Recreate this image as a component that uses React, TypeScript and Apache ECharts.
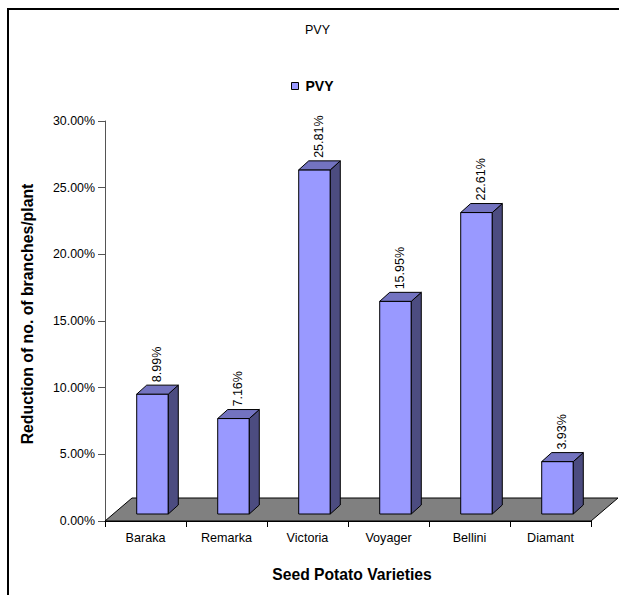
import React, { useEffect, useRef } from "react";
import * as echarts from "echarts";

const categories = ["Baraka", "Remarka", "Victoria", "Voyager", "Bellini", "Diamant"];
const pvyValues = [8.99, 7.16, 25.81, 15.95, 22.61, 3.93];
const seriesName = "PVY";
const yMin = 0;
const yMax = 30;
const yInterval = 5;

const FONT = '"Liberation Sans", Arial, Helvetica, sans-serif';

export default function App() {
  const ref = useRef<HTMLDivElement>(null);

  useEffect(() => {
    if (!ref.current) return;
    const chart = echarts.init(ref.current, undefined, { renderer: "svg" });

    const depthX = 27;
    const depthY = -23;

    const option: any = {
      animation: false,
      backgroundColor: "#ffffff",
      title: {
        text: seriesName,
        left: 305,
        top: 23,
        padding: 0,
        textStyle: { fontSize: 12.5, fontWeight: "normal", color: "#000", fontFamily: FONT },
      },
      legend: {
        left: 291,
        top: 79,
        padding: 0,
        itemWidth: 7,
        itemHeight: 7,
        itemGap: 10,
        data: [
          {
            name: seriesName,
            icon: "rect",
            itemStyle: { color: "#9999FF", borderColor: "#000", borderWidth: 1 },
          },
        ],
        textStyle: { fontSize: 14, fontWeight: "bold", color: "#000", fontFamily: FONT, padding: [0, 0, 0, 2] },
      },
      grid: { left: 105, right: 28, top: 121, bottom: 74, containLabel: false },
      xAxis: {
        type: "category",
        data: categories,
        boundaryGap: true,
        axisLine: { show: true, lineStyle: { color: "#000", width: 1 } },
        axisTick: { show: true, length: 6, alignWithLabel: false, lineStyle: { color: "#000" } },
        axisLabel: { margin: 10, fontSize: 12.6, color: "#000", fontFamily: FONT, interval: 0 },
        splitLine: { show: false },
        z: 3,
      },
      yAxis: {
        type: "value",
        min: yMin,
        max: yMax,
        interval: yInterval,
        axisLine: { show: true, lineStyle: { color: "#555", width: 1 } },
        axisTick: { show: true, length: 7, lineStyle: { color: "#555" } },
        axisLabel: {
          margin: 10,
          fontSize: 12.4,
          color: "#000",
          fontFamily: FONT,
          formatter: (v: number) => v.toFixed(2) + "%",
        },
        splitLine: { show: false },
      },
      graphic: [
        {
          type: "rect",
          shape: { x: 8, y: 9, width: 700, height: 700 },
          style: { fill: "none", stroke: "#000", lineWidth: 2 },
          silent: true,
          z: 10,
        },
        {
          type: "text",
          x: 27,
          y: 314,
          rotation: Math.PI / 2,
          style: {
            text: "Reduction of no. of branches/plant",
            font: "bold 15.8px " + FONT,
            fill: "#000",
            align: "center",
            verticalAlign: "middle",
          },
        },
        {
          type: "text",
          x: 352,
          y: 574,
          style: {
            text: "Seed Potato Varieties",
            font: "bold 15.7px " + FONT,
            fill: "#000",
            align: "center",
            verticalAlign: "middle",
          },
        },
      ],
      series: [
        {
          type: "custom",
          name: "floor",
          z: 1,
          silent: true,
          data: [[0, 0]],
          renderItem: (params: any, api: any) => {
            const cs = params.coordSys;
            const yb = cs.y + cs.height;
            return {
              type: "polygon",
              shape: {
                points: [
                  [cs.x, yb],
                  [cs.x + cs.width, yb],
                  [cs.x + cs.width + depthX, yb + depthY],
                  [cs.x + depthX, yb + depthY],
                ],
              },
              style: { fill: "#808080", stroke: "#000", lineWidth: 1 },
            };
          },
        },
        {
          type: "custom",
          name: seriesName,
          z: 5,
          itemStyle: { color: "#9999FF" },
          data: pvyValues.map((v, i) => [i, v]),
          renderItem: (params: any, api: any) => {
            const idx = api.value(0);
            const v = api.value(1);
            const top = api.coord([idx, v]);
            const base = api.coord([idx, 0]);
            const cw = api.size([1, 0])[0];
            const fw = cw * 0.39;
            const ox = 7;
            const oy = -7;
            const dx = 10;
            const dy = -9;
            const x0 = top[0] - fw / 2 + ox;
            const x1 = x0 + fw;
            const yb = base[1] + oy;
            const yt = top[1] + oy;
            const edge = { stroke: "#000", lineWidth: 1, lineJoin: "round" };
            return {
              type: "group",
              children: [
                {
                  type: "polygon",
                  shape: { points: [[x0, yb], [x1, yb], [x1, yt], [x0, yt]] },
                  style: { fill: "#9999FF", ...edge },
                },
                {
                  type: "polygon",
                  shape: { points: [[x1, yb], [x1 + dx, yb + dy], [x1 + dx, yt + dy], [x1, yt]] },
                  style: { fill: "#4C4C80", ...edge },
                },
                {
                  type: "polygon",
                  shape: { points: [[x0, yt], [x0 + dx, yt + dy], [x1 + dx, yt + dy], [x1, yt]] },
                  style: { fill: "#7373C0", ...edge },
                },
                {
                  type: "text",
                  x: x0 + fw / 2 + dx / 2 - 1,
                  y: yt + dy - 3,
                  rotation: Math.PI / 2,
                  style: {
                    text: v.toFixed(2) + "%",
                    font: "12.5px " + FONT,
                    fill: "#000",
                    align: "left",
                    verticalAlign: "middle",
                  },
                },
              ],
            };
          },
        },
      ],
    };

    chart.setOption(option);
    return () => chart.dispose();
  }, []);

  return (
    <div
      ref={ref}
      style={{ position: "fixed", left: 0, top: 0, width: 619, height: 595, background: "#fff" }}
    />
  );
}
